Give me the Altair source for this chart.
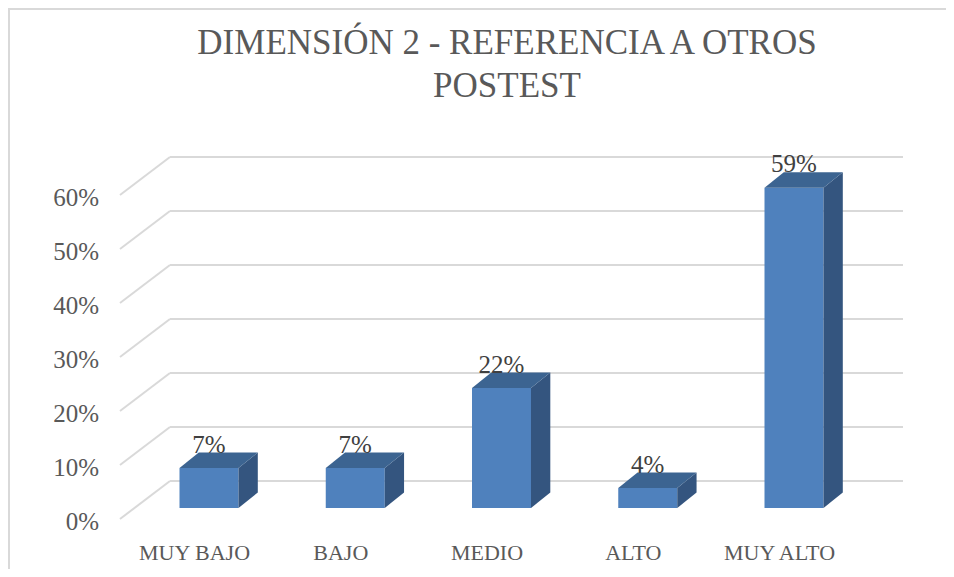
import altair as alt
import pandas as pd

# ---- data ----
categories = ["MUY BAJO", "BAJO", "MEDIO", "ALTO", "MUY ALTO"]
values = [0.074, 0.074, 0.222, 0.037, 0.593]
tick_values = [0.0, 0.1, 0.2, 0.3, 0.4, 0.5, 0.6]
title_lines = ["DIMENSIÓN 2 - REFERENCIA A OTROS", "POSTEST"]

# ---- layout / style constants ----
W, H = 938, 561
X_DOM = [-1.37436, 5.03932]
Y_DOM = [-0.112963, 0.925926]
HW = 0.2017      # half bar width (category units)
DDX = 0.132      # depth offset x
DDY = 0.0287     # depth offset y
WALL_DY = 0.05
WALL_X = [-0.2667, 4.7453]
FLOOR_DX = -0.3419
FLOOR_DY = -0.07037
FONT = "Liberation Serif"
FRONT = "#4F81BD"
SIDE = "#34557F"
TOP = "#3C6491"
GRID = "#D9D9D9"
TXT = "#595959"

xs = alt.Scale(domain=X_DOM, nice=False, zero=False)
ys = alt.Scale(domain=Y_DOM, nice=False, zero=False)

# ---- tables built from the arrays ----
bars = pd.DataFrame({"cat": categories, "idx": list(range(len(categories))), "val": values})
bars["x0"] = bars["idx"] - HW
bars["x1"] = bars["idx"] + HW
bars["lx"] = bars["idx"] - 0.0991
bars["ly"] = -0.0963
bars["ty"] = bars["val"] + DDY
bars["lab"] = [f"{round(v * 100)}%" for v in values]

side_rows, top_rows = [], []
for i, (c, v) in enumerate(zip(categories, values)):
    side_rows.append({"cat": c, "x": i + HW, "y": v, "y2": 0.0})
    side_rows.append({"cat": c, "x": i + HW + DDX, "y": v + DDY, "y2": DDY})
    top_rows.append({"cat": c, "y": v, "x": i - HW, "x2": i + HW})
    top_rows.append({"cat": c, "y": v + DDY, "x": i - HW + DDX, "x2": i + HW + DDX})
side = pd.DataFrame(side_rows)
top = pd.DataFrame(top_rows)

grid = pd.DataFrame({"t": tick_values})
grid["gy"] = grid["t"] + WALL_DY
grid["gx0"] = WALL_X[0]
grid["gx1"] = WALL_X[1]
grid["dx2"] = WALL_X[0] + FLOOR_DX
grid["dy2"] = grid["gy"] + FLOOR_DY
grid["lx"] = -0.75214
grid["ly"] = grid["dy2"] - 11 / 540
grid["lab"] = [f"{round(t * 100)}%" for t in tick_values]

# ---- layers ----
border_left = alt.Chart(pd.DataFrame({"a": [0]})).mark_rule(color=GRID, strokeWidth=2).encode(
    x=alt.value(1), y=alt.value(0), y2=alt.value(H))
border_top = alt.Chart(pd.DataFrame({"a": [0]})).mark_rule(color=GRID, strokeWidth=2).encode(
    x=alt.value(0), x2=alt.value(W), y=alt.value(1))

grid_lines = alt.Chart(grid).mark_rule(color=GRID, strokeWidth=2).encode(
    x=alt.X("gx0:Q", scale=xs, axis=None), x2="gx1:Q",
    y=alt.Y("gy:Q", scale=ys, axis=None))
floor_lines = alt.Chart(grid).mark_rule(color=GRID, strokeWidth=2).encode(
    x=alt.X("gx0:Q", scale=xs, axis=None), x2="dx2:Q",
    y=alt.Y("gy:Q", scale=ys, axis=None), y2="dy2:Q")
y_labels = alt.Chart(grid).mark_text(font=FONT, fontSize=25, color=TXT, align="right",
                                     baseline="alphabetic").encode(
    x=alt.X("lx:Q", scale=xs, axis=None), y=alt.Y("ly:Q", scale=ys, axis=None), text="lab:N")

cat_labels = alt.Chart(bars).mark_text(font=FONT, fontSize=22, color=TXT, align="center",
                                       baseline="alphabetic").encode(
    x=alt.X("lx:Q", scale=xs, axis=None), y=alt.Y("ly:Q", scale=ys, axis=None), text="cat:N")

front = alt.Chart(bars).mark_bar(color=FRONT).encode(
    x=alt.X("x0:Q", scale=xs, axis=None), x2="x1:Q",
    y=alt.Y("val:Q", scale=ys, axis=None), y2=alt.datum(0))
side_face = alt.Chart(side).mark_area(color=SIDE).encode(
    x=alt.X("x:Q", scale=xs, axis=None),
    y=alt.Y("y:Q", scale=ys, axis=None), y2="y2:Q", detail="cat:N")
top_face = alt.Chart(top).mark_area(color=TOP, orient="horizontal").encode(
    y=alt.Y("y:Q", scale=ys, axis=None),
    x=alt.X("x:Q", scale=xs, axis=None), x2="x2:Q", detail="cat:N")

data_labels = alt.Chart(bars).mark_text(font=FONT, fontSize=25, color="#404040", align="center",
                                        baseline="alphabetic").encode(
    x=alt.X("idx:Q", scale=xs, axis=None), y=alt.Y("ty:Q", scale=ys, axis=None), text="lab:N")

title1 = alt.Chart(pd.DataFrame({"t": [title_lines[0]]})).mark_text(
    font=FONT, fontSize=35, color=TXT, align="center", baseline="alphabetic").encode(
    x=alt.value(499), y=alt.value(46), text="t:N")
title2 = alt.Chart(pd.DataFrame({"t": [title_lines[1]]})).mark_text(
    font=FONT, fontSize=35, color=TXT, align="center", baseline="alphabetic").encode(
    x=alt.value(499), y=alt.value(89), text="t:N")

chart = alt.layer(
    border_left, border_top, grid_lines, floor_lines, y_labels, cat_labels,
    front, side_face, top_face, data_labels, title1, title2
).properties(
    width=W, height=H, autosize=alt.AutoSizeParams(type="none"), padding=0,
    background="white"
).configure_view(stroke=None)

chart.save("out.html", embed_options={"renderer": "svg", "actions": False})
